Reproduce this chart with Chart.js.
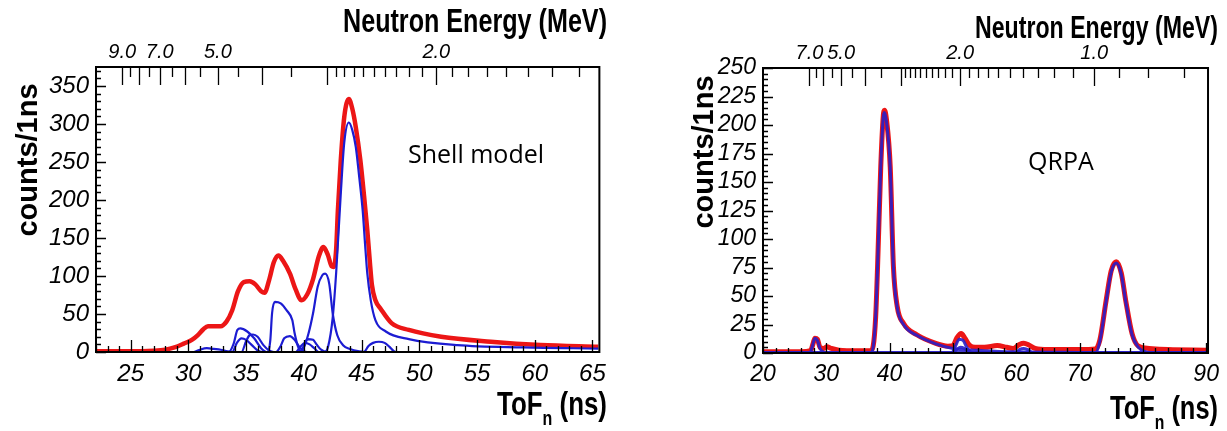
<!DOCTYPE html>
<html>
<head>
<meta charset="utf-8">
<script src="https://cdn.jsdelivr.net/npm/chart.js@4.4.0/dist/chart.umd.min.js"></script>
<style>
  body { margin: 0; background: #fff; width: 1227px; height: 431px; overflow: hidden; position: relative; }
  canvas { position: absolute; top: 0; }
</style>
</head>
<body>
<canvas id="shell" width="614" height="431" style="left:0"></canvas>
<canvas id="qrpa" width="613" height="431" style="left:614px"></canvas>
<script>
// ---- data: [ToF (ns), counts/1ns] ----

// Shell model: total (red) and single-level components (blue)
var shellTotal = [[22,1],[24,1],[26,1],[27,1.5],[28,3],[28.8,6],[29.6,11],[30.3,16],[30.8,22],[31.3,30],[31.7,34],
  [32.3,34],[32.8,34],[33.3,40],[33.8,55],[34.3,80],[34.8,92],[35.3,93],[35.8,89],[36.3,80],[36.6,78],[37.0,95],
  [37.4,118],[37.8,127],[38.2,120],[38.8,103],[39.3,82],[39.8,68],[40.3,76],[40.8,96],[41.3,126],[41.7,138],
  [42.1,127],[42.4,113],[42.6,112],[42.8,135],[42.95,186],[43.2,252],[43.5,309],[43.9,333],[44.2,320],[44.5,296],
  [44.9,252],[45.2,208],[45.5,160],[45.7,122],[45.9,88],[46.2,68],[46.65,57],[47.6,38],[49.1,29],[51.9,20],
  [56.2,13.5],[60.5,9.2],[65.5,7]];
var shellLevel1 = [[31,0],[41.8,0],[42.1,7],[42.5,45],[42.8,104],[43.2,208],[43.5,275],[43.9,302],[44.2,292],
  [44.5,270],[44.8,230],[45.1,186],[45.3,143],[45.5,103],[45.8,68],[46.2,42],[47.1,27],[49.1,17],[53.3,9],[59,6],[65.5,4.5]];
var shellLevel2 = [[31,0],[39.6,0],[40.0,6],[40.4,24],[40.8,51],[41.2,86],[41.6,101],[41.85,103],[42.2,90],
  [42.5,51],[42.9,22],[43.4,9],[44,4],[44.8,1],[45.5,0],[65.5,0]];
var shellLevel3 = [[31,0],[36.9,0],[37.1,16],[37.25,51],[37.5,66],[38.0,64],[38.5,55],[39.0,42],[39.2,25],
  [39.5,7],[39.8,0],[65.5,0]];
var shellLevel4 = [[31,0],[33.5,0],[33.9,10],[34.25,29],[34.5,31],[35.1,27],[35.7,18],[36.3,5],[36.8,0],[65.5,0]];
var shellLevel5 = [[31,0],[33.8,0],[34.2,12],[34.6,18],[35,16],[35.5,9],[36,2],[36.4,0],[65.5,0]];
var shellLevel6 = [[31,0],[34.6,0],[35.0,14],[35.3,22],[35.6,23],[36.0,20],[36.5,9],[37,2],[37.4,0],[65.5,0]];
var shellLevel7 = [[31,0],[37.6,0],[38.0,8],[38.3,18],[38.8,21],[39.2,16],[39.6,7],[40,1],[40.3,0],[65.5,0]];
var shellLevel8 = [[31,0],[39.6,0],[40,8],[40.3,17],[40.8,16],[41.1,10],[41.5,3],[42,0],[65.5,0]];
var shellLevel9 = [[31,0],[39.3,0],[39.7,7],[40.1,12],[40.5,10],[40.9,5],[41.3,0],[65.5,0]];
var shellLevel10 = [[31,0],[45.2,0],[45.6,8],[46,12],[46.5,13.5],[47,12],[47.4,7],[47.8,1],[48,0],[65.5,0]];
var shellLevel11 = [[30.5,0],[31,3],[31.6,5],[32.2,4],[32.8,3],[33.4,1],[34,0],[65.5,0]];

// QRPA: total (red) and components (blue)
var qrpaTotal = [[20,1],[26,1],[27.5,2],[27.9,8],[28.2,13],[28.6,12],[29,5],[29.6,4],[30.1,5.5],[30.8,4],[32,2.5],
  [35,2],[37,2],[37.4,6],[37.8,32],[38.1,76],[38.6,163],[39.0,208],[39.2,213],[39.5,205],[40.1,163],[40.6,76],
  [41.2,41],[42.2,26],[44.3,16],[47.3,8.5],[49.2,6],[50,6.5],[50.6,13],[51.3,17],[51.9,13],[52.6,7],[53.5,5],
  [55,5],[57,6.5],[58.5,5],[59.5,4],[60.5,7.5],[61.2,8.5],[62,7],[63,4],[65,3],[70,3],[72.5,3.5],[73.2,11],
  [74.2,46],[75,72],[75.8,80],[76.6,70],[77.3,46],[78.3,17],[79.3,6],[81,4],[84,3],[90,2.5]];
var qrpaLevel1 = [[20,0],[37,0],[37.4,5],[37.8,32],[38.1,76],[38.6,163],[39.0,207],[39.2,211],[39.5,203],[40.1,162],
  [40.6,75],[41.2,40],[42.2,25],[44.3,15.5],[47.3,8],[50,4],[55,2],[60,1],[70,0.5],[90,0]];
var qrpaLevel2 = [[20,0],[27.4,0],[27.8,6],[28.2,13],[28.6,11],[29,4],[29.5,1],[30,0],[90,0]];
var qrpaLevel3 = [[20,0],[49.8,0],[50.4,6],[51,12],[51.6,11],[52.2,5],[52.8,1],[53.3,0],[90,0]];
var qrpaLevel4 = [[20,0],[50,0],[50.6,3],[51.2,5],[51.8,4],[52.4,1.5],[53,0],[90,0]];
var qrpaLevel5 = [[20,0],[59.8,0],[60.5,3],[61.2,4],[62,2.5],[62.6,0],[90,0]];
var qrpaLevel6 = [[20,0],[72.5,0],[73.2,10],[74.2,45],[75,71],[75.8,79],[76.6,69],[77.3,45],[78.3,16],[79.3,5],
  [80.5,1],[82,0],[90,0]];

// axis tick labels
var shellTofTicks = [25, 30, 35, 40, 45, 50, 55, 60, 65];
var shellCountTicks = [0, 50, 100, 150, 200, 250, 300, 350];
var shellEnergyLabels = [9.0, 7.0, 5.0, 2.0];
var shellEnergyMarks = [9, 8.5, 8, 7.5, 7, 6.5, 6, 5.5, 5, 4.5, 4, 3.5, 3, 2.9, 2.8, 2.7, 2.6, 2.5, 2.4, 2.3, 2.2, 2.1,
  2, 1.9, 1.8, 1.7, 1.6, 1.5, 1.4, 1.3];
var qrpaTofTicks = [20, 30, 40, 50, 60, 70, 80, 90];
var qrpaCountTicks = [0, 25, 50, 75, 100, 125, 150, 175, 200, 225, 250];
var qrpaEnergyLabels = [7.0, 5.0, 2.0, 1.0];
var qrpaEnergyMarks = [7, 6.5, 6, 5.5, 5, 4.5, 4, 3.5, 3, 2.9, 2.8, 2.7, 2.6, 2.5, 2.4, 2.3, 2.2, 2.1, 2,
  1.9, 1.8, 1.7, 1.6, 1.5, 1.4, 1.3, 1.2, 1.1, 1, 0.9, 0.8, 0.7];

// E[MeV] * ToF[ns]^2 for the ~1 m flight path (top axis)
var shellK = 5300;
var qrpaK = 5230;

var RED = 'rgb(236, 22, 22)';
var BLUE = 'rgb(28, 28, 210)';
var SANS = "'Liberation Sans', Arial, sans-serif";

// right-aligned text squeezed to the given width (narrow Helvetica look)
function fitText(ctx, text, right, base, width) {
  var w = ctx.measureText(text).width;
  var k = Math.min(1, width / w);
  ctx.save();
  ctx.translate(right, base);
  ctx.scale(k, 1);
  ctx.textAlign = 'right';
  ctx.fillText(text, 0, 0);
  ctx.restore();
}

function drawTof(ctx, right, base, size, width) {
  var f1 = 'bold ' + size + 'px ' + SANS;
  var f2 = 'bold ' + Math.round(size * 0.62) + 'px ' + SANS;
  ctx.font = f1;
  var w1 = ctx.measureText('ToF').width;
  var w3 = ctx.measureText(' (ns)').width;
  ctx.font = f2;
  var w2 = ctx.measureText('n').width;
  var k = width / (w1 + w2 + w3);
  ctx.save();
  ctx.translate(right - width, base);
  ctx.scale(k, 1);
  ctx.textAlign = 'left';
  ctx.textBaseline = 'alphabetic';
  ctx.font = f1;
  ctx.fillText('ToF', 0, 0);
  ctx.font = f2;
  ctx.fillText('n', w1, size * 0.3);
  ctx.font = f1;
  ctx.fillText(' (ns)', w1 + w2, 0);
  ctx.restore();
}

// frame, inner ticks and titles (ROOT look)
var framePlugin = {
  id: 'frame',
  afterDatasetsDraw: function (chart, args, o) {
    var ctx = chart.ctx, a = chart.chartArea;
    var x = chart.scales.x, y = chart.scales.y;
    var i, v, px, py, len;
    ctx.save();
    ctx.strokeStyle = '#000';
    ctx.lineWidth = 1.3;
    ctx.beginPath();
    for (i = 0; (v = i * o.yMinor) <= y.max; i++) {
      py = Math.round(y.getPixelForValue(v)) + 0.5;
      len = i % o.yEvery === 0 ? 10 : 5;
      ctx.moveTo(a.left, py); ctx.lineTo(a.left + len, py);
    }
    for (i = 0; (v = o.xStart + i * o.xMinor) <= x.max; i++) {
      px = Math.round(x.getPixelForValue(v)) + 0.5;
      len = (v % o.xMajor === 0) ? o.xMajorLen : o.xMajorLen / 2;
      ctx.moveTo(px, a.bottom); ctx.lineTo(px, a.bottom - len);
    }
    o.energyMarks.forEach(function (E) {
      px = Math.round(x.getPixelForValue(Math.sqrt(o.K / E))) + 0.5;
      len = (E % 1 === 0) ? 18 : 10;
      ctx.moveTo(px, a.top); ctx.lineTo(px, a.top + len);
    });
    ctx.stroke();
    ctx.lineWidth = 2;
    ctx.strokeRect(a.left, a.top, a.right - a.left, a.bottom - a.top);
    ctx.restore();
  },
  afterDraw: function (chart, args, o) {
    var ctx = chart.ctx;
    ctx.save();
    ctx.fillStyle = '#000';
    ctx.textBaseline = 'alphabetic';
    ctx.font = 'bold ' + o.topSize + 'px ' + SANS;
    fitText(ctx, 'Neutron Energy (MeV)', o.topRight, o.topBase, o.topWidth);
    drawTof(ctx, o.topRight, o.tofBase, o.tofSize, o.tofWidth);
    ctx.save();
    ctx.translate(o.yTitleX, o.yTitleY);
    ctx.rotate(-Math.PI / 2);
    ctx.textAlign = 'center';
    ctx.textBaseline = 'middle';
    ctx.font = 'bold 29px ' + SANS;
    ctx.fillText('counts/1ns', 0, 0);
    ctx.restore();
    ctx.textAlign = 'left';
    ctx.font = "25px 'Open Sans', sans-serif";
    ctx.fillText(o.label, o.labelX, o.labelY);
    ctx.restore();
  }
};

function buildPanel(id, p) {
  var datasets = [{
    data: toXY(p.total), borderColor: RED, borderWidth: p.redWidth, order: 2
  }];
  p.parts.forEach(function (part) {
    datasets.push({data: toXY(part), borderColor: p.blue, borderWidth: p.blueWidth, order: 1});
  });
  var tickFont = {family: SANS, size: p.tickSize, style: 'italic'};
  return new Chart(document.getElementById(id), {
    type: 'scatter',
    data: {datasets: datasets},
    options: {
      responsive: false,
      animation: false,
      events: [],
      layout: {padding: {left: 0, right: p.padRight, top: 0, bottom: 0}},
      elements: {
        point: {radius: 0},
        line: {cubicInterpolationMode: 'monotone', fill: false}
      },
      datasets: {scatter: {showLine: true}},
      plugins: {
        legend: {display: false},
        tooltip: {enabled: false},
        frame: p.frame
      },
      scales: {
        x: {
          type: 'linear', position: 'bottom', min: p.xMin, max: p.xMax,
          grid: {display: false, drawTicks: false}, border: {display: false},
          ticks: {font: tickFont, color: '#000', padding: 8, autoSkip: false, maxRotation: 0},
          afterBuildTicks: function (s) { s.ticks = p.tofTicks.map(function (v) { return {value: v}; }); },
          afterFit: function (s) { s.height = p.bottomH; }
        },
        xTop: {
          type: 'linear', position: 'top', min: p.xMin, max: p.xMax,
          grid: {display: false, drawTicks: false}, border: {display: false},
          ticks: {
            font: {family: SANS, size: 20, style: 'italic'}, color: '#000', padding: 3,
            autoSkip: false, maxRotation: 0,
            callback: function (v) { return (p.K / (v * v)).toFixed(1); }
          },
          afterBuildTicks: function (s) {
            s.ticks = p.energyLabels.map(function (E) { return {value: Math.sqrt(p.K / E)}; });
          },
          afterFit: function (s) { s.height = p.topH; }
        },
        y: {
          type: 'linear', min: 0, max: p.yMax,
          grid: {display: false, drawTicks: false}, border: {display: false},
          ticks: {font: tickFont, color: '#000', padding: 7, autoSkip: false},
          afterBuildTicks: function (s) { s.ticks = p.countTicks.map(function (v) { return {value: v}; }); },
          afterFit: function (s) { s.width = p.leftW; }
        }
      }
    },
    plugins: [framePlugin]
  });
}

function toXY(pairs) {
  return pairs.map(function (q) { return {x: q[0], y: q[1]}; });
}

buildPanel('shell', {
  total: shellTotal,
  parts: [shellLevel1, shellLevel2, shellLevel3, shellLevel4, shellLevel5, shellLevel6, shellLevel7,
    shellLevel8, shellLevel9, shellLevel10, shellLevel11],
  redWidth: 4.5, blue: BLUE, blueWidth: 2.2,
  xMin: 22, xMax: 65.6, yMax: 375, K: shellK,
  tofTicks: shellTofTicks, countTicks: shellCountTicks, energyLabels: shellEnergyLabels,
  tickSize: 24, leftW: 96, padRight: 7, topH: 67, bottomH: 79,
  frame: {
    yMinor: 10, yEvery: 5, xStart: 22, xMinor: 1, xMajor: 5, xMajorLen: 12,
    energyMarks: shellEnergyMarks, K: shellK,
    topSize: 34, topRight: 607, topBase: 32, topWidth: 264,
    tofSize: 34, tofBase: 415, tofWidth: 110,
    yTitleX: 29, yTitleY: 160, label: 'Shell model', labelX: 408, labelY: 163
  }
});

buildPanel('qrpa', {
  total: qrpaTotal,
  parts: [qrpaLevel1, qrpaLevel2, qrpaLevel3, qrpaLevel4, qrpaLevel5, qrpaLevel6],
  redWidth: 5, blue: 'rgba(40, 30, 200, 0.9)', blueWidth: 3,
  xMin: 20, xMax: 90.3, yMax: 250, K: qrpaK,
  tofTicks: qrpaTofTicks, countTicks: qrpaCountTicks, energyLabels: qrpaEnergyLabels,
  tickSize: 23, leftW: 149, padRight: 10, topH: 68, bottomH: 78,
  frame: {
    yMinor: 5, yEvery: 5, xStart: 20, xMinor: 2, xMajor: 10, xMajorLen: 10,
    energyMarks: qrpaEnergyMarks, K: qrpaK,
    topSize: 31, topRight: 604, topBase: 38, topWidth: 243,
    tofSize: 34, tofBase: 419, tofWidth: 108,
    yTitleX: 91, yTitleY: 152, label: 'QRPA', labelX: 414, labelY: 170
  }
});
</script>
</body>
</html>
